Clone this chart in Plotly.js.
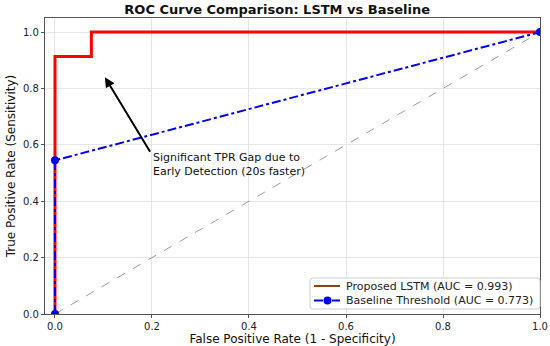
<!DOCTYPE html>
<html>
<head>
<meta charset="utf-8">
<script src="https://cdn.plot.ly/plotly-3.0.1.min.js"></script>
<style>html,body{margin:0;padding:0;background:#fff}#chart{width:550px;height:346px}</style>
</head>
<body>
<div id="chart"></div>
<script>
// Data
const lstmFPR = [0, 0, 0.075, 0.075, 1.0];
const lstmTPR = [0, 0.913, 0.913, 1.0, 1.0];
const baseFPR = [0, 0, 1.0];
const baseTPR = [0, 0.545, 1.0];
const diagX = [0, 1];
const diagY = [0, 1];
const lstmLabel = 'Proposed LSTM (AUC = 0.993)';
const baseLabel = 'Baseline Threshold (AUC = 0.773)';
const noteLines = ['Significant TPR Gap due to', 'Early Detection (20s faster)'];
const xTicks = [0, 0.2, 0.4, 0.6, 0.8, 1.0];
const yTicks = [0, 0.2, 0.4, 0.6, 0.8, 1.0];
const tickText = ['0.0', '0.2', '0.4', '0.6', '0.8', '1.0'];

const font = 'DejaVu Sans, sans-serif';
const W = 550, H = 346, M = {l: 45, r: 10, t: 18, b: 32};
// pixel -> paper helpers for the hand-drawn legend
const px = p => (p - M.l) / (W - M.l - M.r);
const py = q => (H - M.b - q) / (H - M.t - M.b);

const traces = [
  {x: diagX, y: diagY, mode: 'lines', line: {color: 'rgba(100,100,100,0.8)', width: 0.8, dash: 'dash'}, showlegend: false, hoverinfo: 'skip'},
  {x: lstmFPR, y: lstmTPR, mode: 'lines', name: lstmLabel, line: {color: '#ff0000', width: 3}, showlegend: false},
  {x: baseFPR, y: baseTPR, mode: 'lines+markers', name: baseLabel,
   line: {color: '#0000ee', width: 2, dash: 'dashdot'}, marker: {color: '#0000ee', size: 8}, showlegend: false}
];

// legend box (drawn manually for compact matplotlib-like rows)
const lx0 = 310, lx1 = 540, ly0 = 278, ly1 = 309, r = 3;
const row1 = 286, row2 = 300.5;
const boxPath = `M ${px(lx0 + r)} ${py(ly0)} L ${px(lx1 - r)} ${py(ly0)} Q ${px(lx1)} ${py(ly0)} ${px(lx1)} ${py(ly0 + r)} ` +
  `L ${px(lx1)} ${py(ly1 - r)} Q ${px(lx1)} ${py(ly1)} ${px(lx1 - r)} ${py(ly1)} L ${px(lx0 + r)} ${py(ly1)} ` +
  `Q ${px(lx0)} ${py(ly1)} ${px(lx0)} ${py(ly1 - r)} L ${px(lx0)} ${py(ly0 + r)} Q ${px(lx0)} ${py(ly0)} ${px(lx0 + r)} ${py(ly0)} Z`;

const shapes = [
  {type: 'path', xref: 'paper', yref: 'paper', path: boxPath, fillcolor: 'rgba(255,255,255,0.85)', line: {color: '#cfcfcf', width: 1}},
  {type: 'line', xref: 'paper', yref: 'paper', x0: px(314), x1: px(340), y0: py(row1), y1: py(row1), line: {color: '#8b4513', width: 2}},
  {type: 'line', xref: 'paper', yref: 'paper', x0: px(314), x1: px(340), y0: py(row2), y1: py(row2), line: {color: '#0000ee', width: 2, dash: 'dashdot'}},
  {type: 'circle', xref: 'paper', yref: 'paper', x0: px(323.5), x1: px(331.5), y0: py(row2 + 4), y1: py(row2 - 4), fillcolor: '#0000ee', line: {color: '#0000ee', width: 0}}
];

const layout = {
  width: W, height: H,
  margin: M,
  paper_bgcolor: '#fff', plot_bgcolor: '#fff',
  font: {family: font, color: '#222', size: 10},
  showlegend: false,
  title: {text: '<b>ROC Curve Comparison: LSTM vs Baseline</b>', font: {family: font, size: 13, color: '#111'}, x: 0.504, xanchor: 'center', y: 0.972, yanchor: 'middle'},
  xaxis: {
    range: [-0.0206, 1.0], tickvals: xTicks, ticktext: tickText,
    showgrid: true, gridcolor: '#e6e6e6', gridwidth: 1, zeroline: false,
    showline: true, linecolor: '#555', linewidth: 1.2, mirror: true,
    ticks: 'outside', ticklen: 3, tickcolor: '#555',
    title: {text: 'False Positive Rate (1 - Specificity)', font: {family: font, size: 12, color: '#111'}, standoff: 4}
  },
  yaxis: {
    range: [0, 1.05], tickvals: yTicks, ticktext: tickText,
    showgrid: true, gridcolor: '#e6e6e6', gridwidth: 1, zeroline: false,
    showline: true, linecolor: '#555', linewidth: 1.2, mirror: true,
    ticks: 'outside', ticklen: 3, tickcolor: '#555',
    title: {text: 'True Positive Rate (Sensitivity)', font: {family: font, size: 12, color: '#111'}, standoff: 4}
  },
  shapes: shapes,
  annotations: [
    {x: 0.103, y: 0.84, ax: 0.198, ay: 0.57, xref: 'x', yref: 'y', axref: 'x', ayref: 'y',
     text: '', showarrow: true, arrowhead: 2, arrowsize: 1, arrowwidth: 2, arrowcolor: '#000'},
    {x: 0.2, y: 0.53, xref: 'x', yref: 'y', xanchor: 'left', yanchor: 'middle', align: 'left',
     text: noteLines.join('<br>'), showarrow: false, borderpad: 0, font: {family: font, size: 11, color: '#111'}},
    {x: px(345), y: py(row1), xref: 'paper', yref: 'paper', xanchor: 'left', yanchor: 'middle',
     text: lstmLabel, showarrow: false, borderpad: 0, font: {family: font, size: 11, color: '#222'}},
    {x: px(345), y: py(row2), xref: 'paper', yref: 'paper', xanchor: 'left', yanchor: 'middle',
     text: baseLabel, showarrow: false, borderpad: 0, font: {family: font, size: 11, color: '#222'}}
  ]
};

Plotly.newPlot('chart', traces, layout, {displayModeBar: false, staticPlot: true});
</script>
</body>
</html>
